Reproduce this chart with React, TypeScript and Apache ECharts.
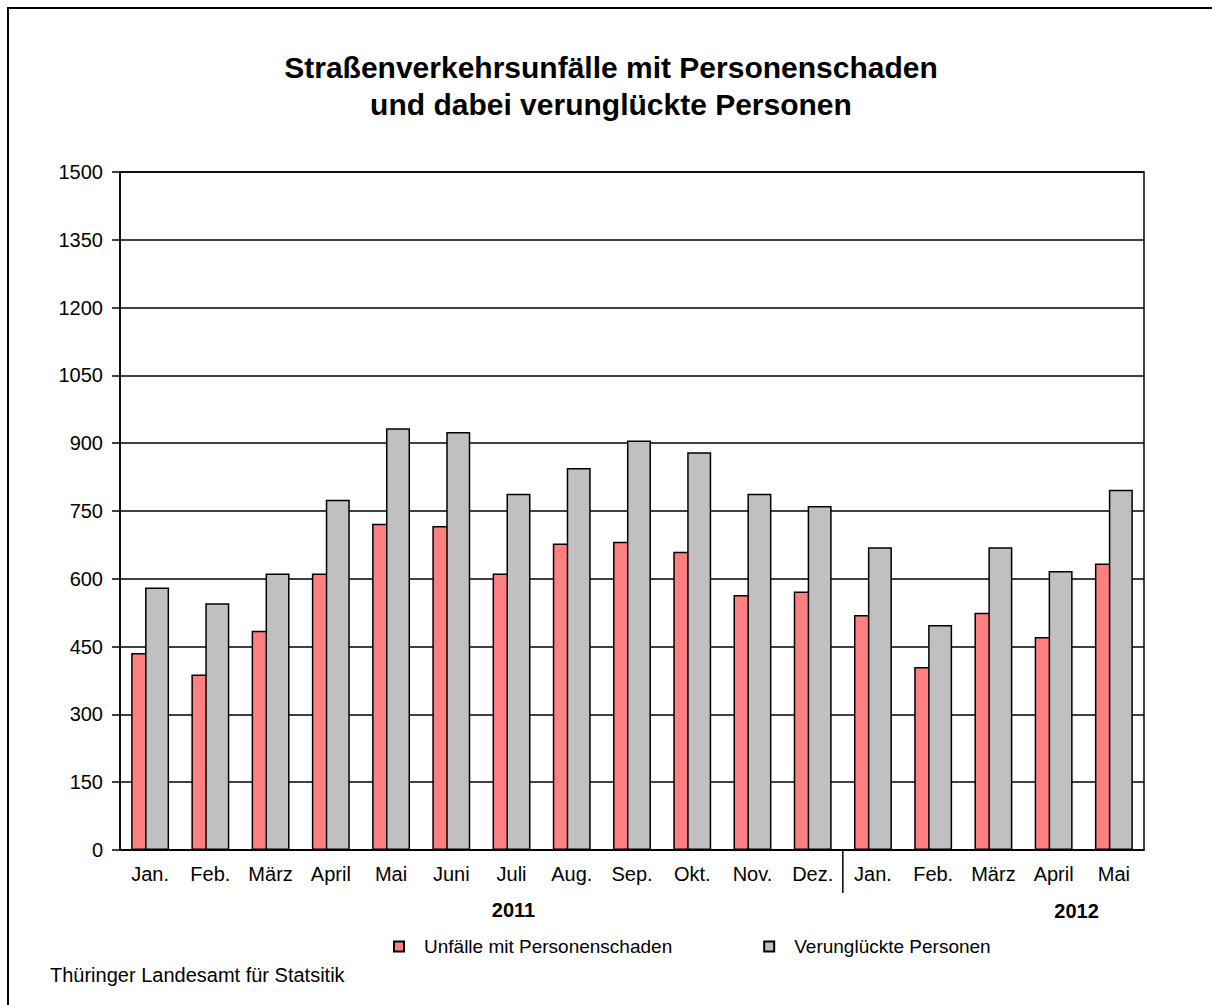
import React, { useEffect, useRef } from "react";
import * as echarts from "echarts";

const months = ["Jan.", "Feb.", "März", "April", "Mai", "Juni", "Juli", "Aug.", "Sep.", "Okt.", "Nov.", "Dez.", "Jan.", "Feb.", "März", "April", "Mai"];
const unfaelle = [436, 388, 485, 612, 722, 717, 612, 678, 682, 660, 564, 572, 520, 405, 525, 471, 634];
const verunglueckte = [581, 546, 612, 775, 933, 925, 788, 845, 906, 880, 788, 761, 670, 498, 670, 617, 797];
const seriesNames = ["Unfälle mit Personenschaden", "Verunglückte Personen"];
const yearLabels = ["2011", "2012"];
const titleLines = ["Straßenverkehrsunfälle mit Personenschaden", "und dabei verunglückte Personen"];
const sourceText = "Thüringer Landesamt für Statsitik";

const FONT = "'Liberation Sans', Arial, sans-serif";

export default function App() {
  const ref = useRef<HTMLDivElement>(null);
  useEffect(() => {
    if (!ref.current) return;
    const chart = echarts.init(ref.current, null, { renderer: "svg" });
    chart.setOption({
      animation: false,
      backgroundColor: "#ffffff",
      textStyle: { fontFamily: FONT },
      title: {
        text: titleLines.join("\n"),
        left: 606,
        textAlign: "center",
        top: 44,
        textStyle: { fontFamily: FONT, fontSize: 30, fontWeight: "bold", color: "#000", lineHeight: 37 },
      },
      legend: {
        left: 388,
        top: 932,
        itemWidth: 10,
        itemHeight: 10,
        itemGap: 91,
        icon: "rect",
        textStyle: { fontFamily: FONT, fontSize: 19, color: "#000", padding: [0, 0, 0, 15] },
        data: seriesNames,
      },
      grid: {
        left: 120,
        right: 68,
        top: 172,
        bottom: 155,
        show: true,
        borderColor: "#000",
        borderWidth: 1.5,
        containLabel: false,
        outerBoundsMode: "none",
      },
      xAxis: {
        type: "category",
        data: months,
        boundaryGap: true,
        axisLine: { show: true, lineStyle: { color: "#000", width: 1.5 } },
        axisTick: { show: false },
        axisLabel: { interval: 0, margin: 14, fontFamily: FONT, fontSize: 20, color: "#000" },
      },
      yAxis: {
        type: "value",
        min: 0,
        max: 1500,
        interval: 150,
        axisLine: { show: true, lineStyle: { color: "#000", width: 1.5 } },
        axisTick: { show: true, length: 8, lineStyle: { color: "#000", width: 1.5 } },
        axisLabel: { margin: 17, fontFamily: FONT, fontSize: 20, color: "#000", formatter: (v: number) => String(v) },
        splitLine: { show: true, lineStyle: { color: "#000", width: 1.5 } },
      },
      series: [
        {
          name: seriesNames[0],
          type: "bar",
          data: unfaelle,
          barWidth: 24,
          barGap: "-42%",
          itemStyle: { color: "#FF8080", borderColor: "#000", borderWidth: 1.5 },
        },
        {
          name: seriesNames[1],
          type: "bar",
          data: verunglueckte,
          barWidth: 24,
          barGap: "-42%",
          itemStyle: { color: "#C0C0C0", borderColor: "#000", borderWidth: 1.5 },
        },
      ],
    });

    const xDez = chart.convertToPixel({ xAxisIndex: 0 }, 11) as number;
    const xJan = chart.convertToPixel({ xAxisIndex: 0 }, 12) as number;
    const xJuli = chart.convertToPixel({ xAxisIndex: 0 }, 6) as number;
    const xApril = chart.convertToPixel({ xAxisIndex: 0 }, 15) as number;
    const xMai = chart.convertToPixel({ xAxisIndex: 0 }, 16) as number;
    const y0 = chart.convertToPixel({ yAxisIndex: 0 }, 0) as number;
    const sepX = (xDez + xJan) / 2;

    chart.setOption({
      graphic: [
        {
          type: "rect",
          shape: { x: 8, y: 8, width: 1230, height: 1030 },
          style: { fill: "none", stroke: "#000", lineWidth: 2 },
          silent: true,
        },
        {
          type: "line",
          shape: { x1: sepX, y1: y0, x2: sepX, y2: y0 + 43 },
          style: { stroke: "#000", lineWidth: 1.5 },
          silent: true,
        },
        {
          type: "text",
          x: xJuli + 2,
          y: y0 + 60,
          style: { text: yearLabels[0], font: `bold 20px ${FONT}`, fill: "#000", textAlign: "center", textVerticalAlign: "middle" },
        },
        {
          type: "text",
          x: xApril + (xMai - xApril) * 0.38,
          y: y0 + 61,
          style: { text: yearLabels[1], font: `bold 20px ${FONT}`, fill: "#000", textAlign: "center", textVerticalAlign: "middle" },
        },
        {
          type: "text",
          x: 50,
          y: 975,
          style: { text: sourceText, font: `20px ${FONT}`, fill: "#000", textAlign: "left", textVerticalAlign: "middle" },
        },
      ],
    });
    return () => chart.dispose();
  }, []);
  return <div ref={ref} style={{ position: "absolute", left: 0, top: 0, width: 1212, height: 1005 }} />;
}
